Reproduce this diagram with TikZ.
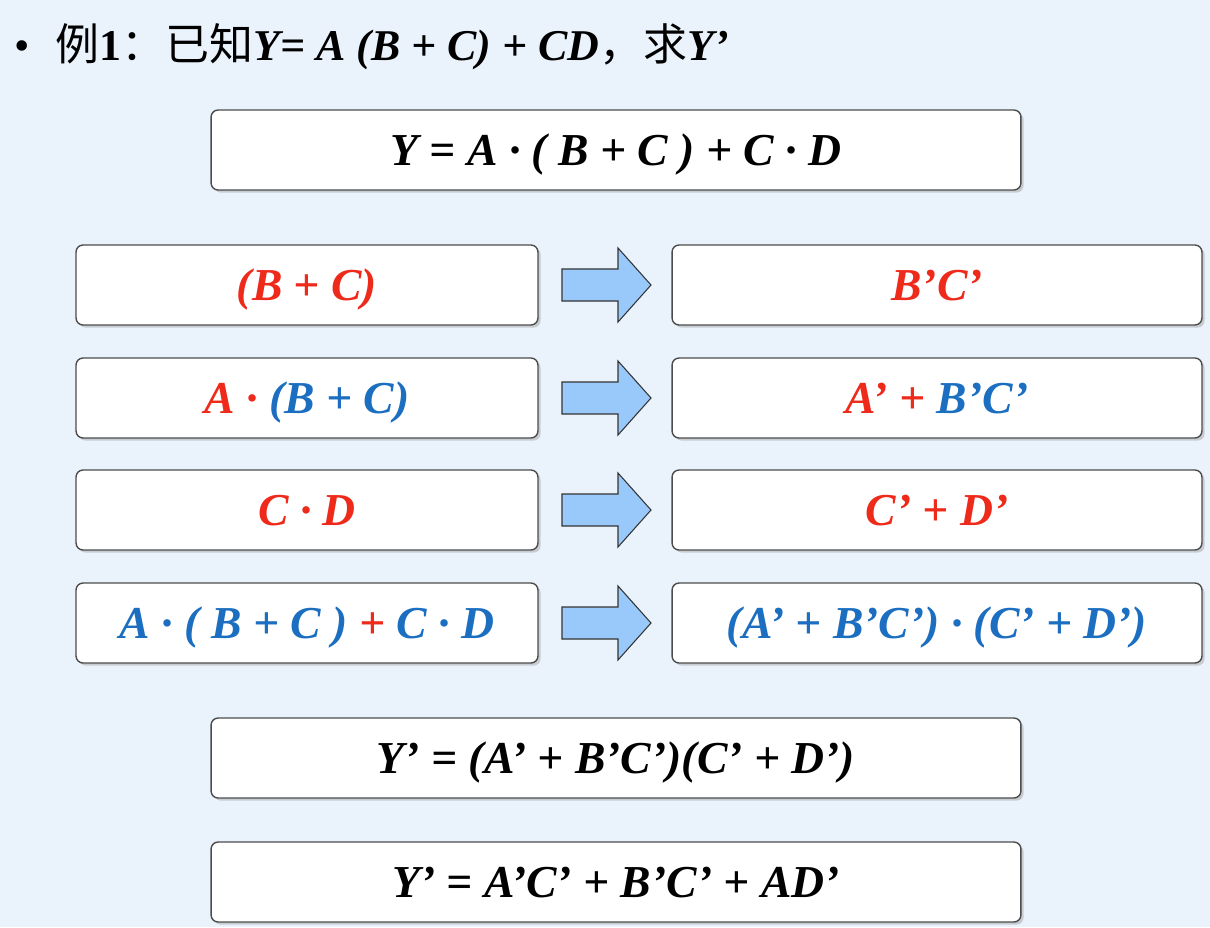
\documentclass[tikz,border=0pt]{standalone}
\usepackage{fontspec}
\setmainfont{Liberation Serif}
\newfontfamily\cjk{Noto Sans CJK SC}
\usetikzlibrary{positioning,shadows}
\definecolor{slidebg}{HTML}{EAF3FC}
\definecolor{exred}{HTML}{EE2A1B}
\definecolor{exblue}{HTML}{1C6FC0}
\definecolor{arrowfill}{HTML}{99C9FA}
\tikzset{
  exbox/.style={draw=black!70,line width=0.8pt,fill=white,rounded corners=4pt,
    drop shadow={shadow xshift=1.5pt,shadow yshift=-1.5pt,fill=black!35},
    minimum height=1.6cm,text height=0.62cm,text depth=0.02cm,
    font=\fontsize{26}{30}\selectfont\bfseries\itshape},
  widebox/.style={exbox,minimum width=16.2cm},
  leftbox/.style={exbox,minimum width=9.24cm},
  rightbox/.style={exbox,minimum width=10.6cm},
  fatarrow/.style={draw=black!80,fill=arrowfill,line width=0.6pt},
}
\begin{document}
\begin{tikzpicture}[x=0.02cm,y=-0.02cm]
  \useasboundingbox[fill=slidebg] (0,0) rectangle (1210,927);
  \node[anchor=west,font=\fontsize{25}{28}\selectfont] (title) at (8,47)
    {\textbullet\hspace{0.6em}{\cjk 例}\textbf{1}{\cjk ：已知}\textbf{\textit{Y= A (B + C) + CD}}{\cjk ，求}\textbf{\textit{Y’}}};
  \node[widebox] (orig) at (616,150) {Y = A · ( B + C ) + C · D};
  % left column
  \node[leftbox,text=exred] (l1) at (307,285) {(B + C)};
  \node[leftbox] (l2) at (307,398) {\textcolor{exred}{A ·} \textcolor{exblue}{(B + C)}};
  \node[leftbox,text=exred] (l3) at (307,510) {C · D};
  \node[leftbox] (l4) at (307,623) {\textcolor{exblue}{A · ( B + C )} \textcolor{exred}{+} \textcolor{exblue}{C · D}};
  % right column
  \node[rightbox,text=exred] (r1) at (937,285) {B’C’};
  \node[rightbox] (r2) at (937,398) {\textcolor{exred}{A’ +} \textcolor{exblue}{B’C’}};
  \node[rightbox,text=exred] (r3) at (937,510) {C’ + D’};
  \node[rightbox,text=exblue] (r4) at (937,623) {(A’ + B’C’) · (C’ + D’)};
  % block arrows between the columns
  \foreach \i/\y in {1/285,2/398,3/510,4/623}
    \draw[fatarrow] (562,\y-16) coordinate (a\i) -- ++(56,0) -- ++(0,-21)
      -- ++(33,37) -- ++(-33,37) -- ++(0,-21) -- ++(-56,0) -- cycle;
  \node[widebox] (res1) at (616,758) {Y’ = (A’ + B’C’)(C’ + D’)};
  \node[widebox] (res2) at (616,882) {Y’ = A’C’ + B’C’ + AD’};
\end{tikzpicture}
\end{document}
